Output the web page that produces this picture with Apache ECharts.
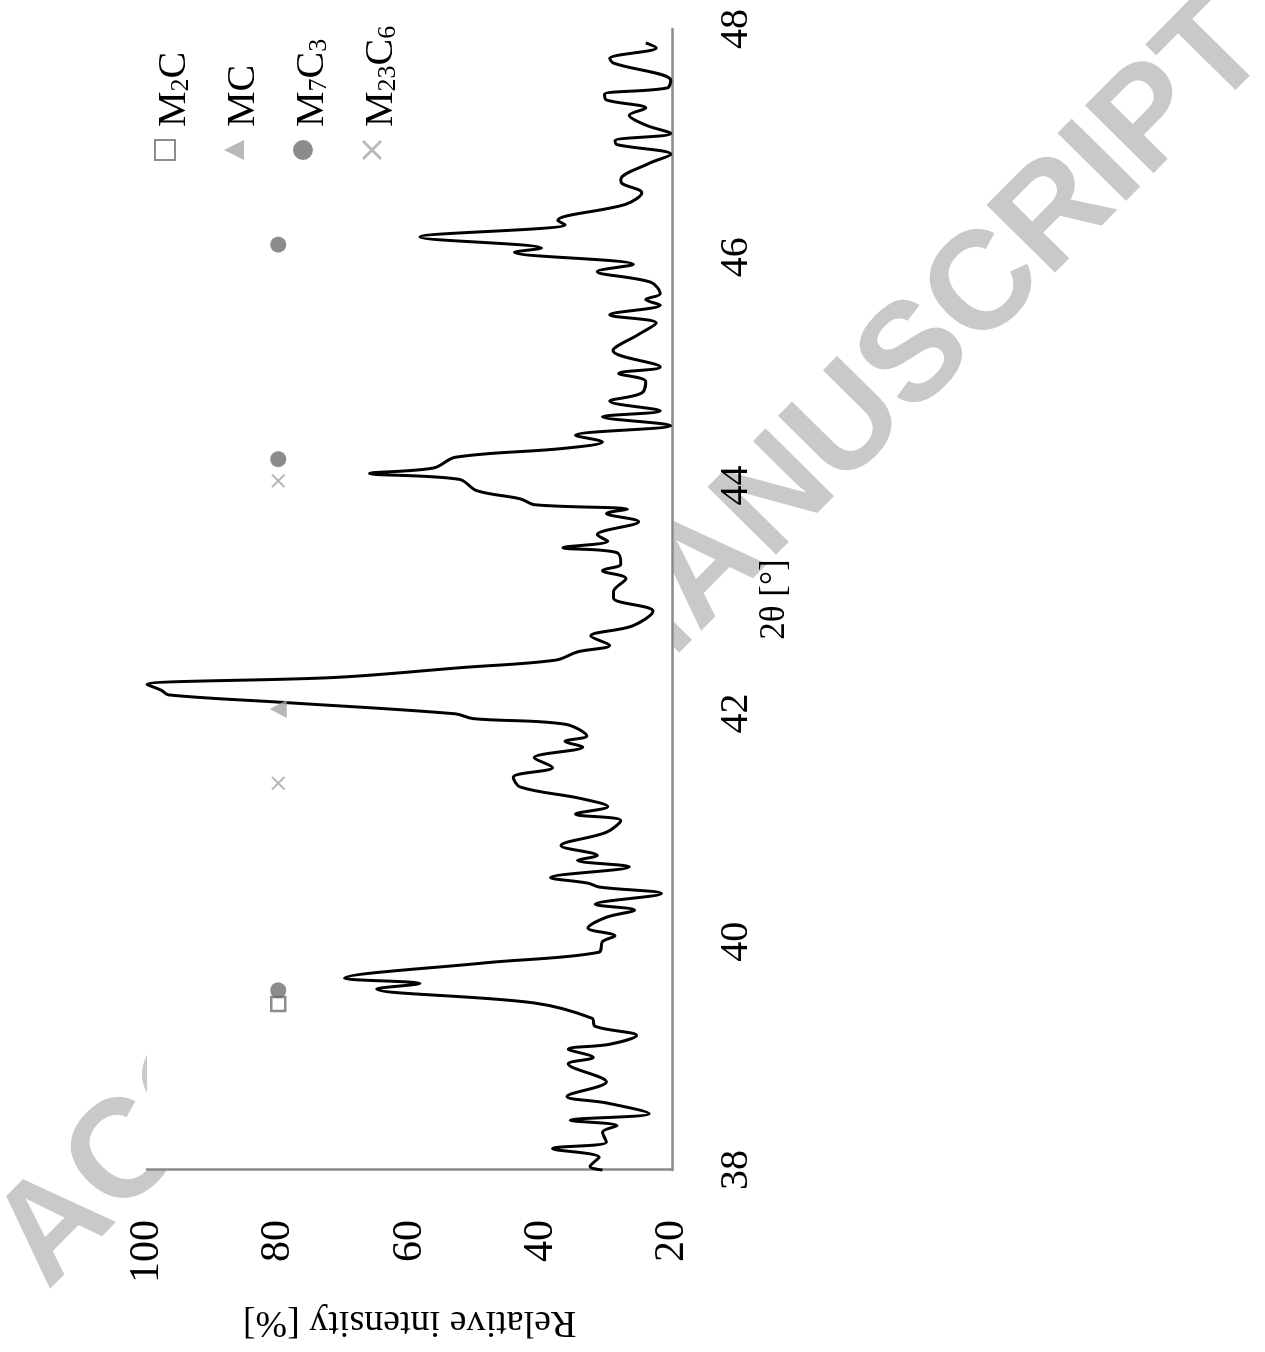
<!DOCTYPE html>
<html>
<head>
<meta charset="utf-8">
<script src="https://cdn.jsdelivr.net/npm/echarts@6/dist/echarts.min.js"></script>
<style>
  html, body { margin: 0; padding: 0; background: #fff; width: 1265px; height: 1352px; overflow: hidden; }
  /* The figure is laid out landscape and turned a quarter-turn counter-clockwise on the page. */
  #chart {
    position: absolute; left: 0; top: 0;
    width: 1352px; height: 1265px;
    transform-origin: 0 0;
    transform: translate(0, 1352px) rotate(-90deg);
  }
</style>
</head>
<body>
<div id="chart"></div>
<script>
// Diffraction scan: 2θ positions [°] and relative intensity [%]
const twoTheta = [
  38.00, 38.031, 38.111, 38.188, 38.245, 38.331, 38.388, 38.436, 38.494, 38.588,
  38.645, 38.773, 38.930, 38.987, 39.059, 39.102, 39.179, 39.259, 39.330, 39.464,
  39.587, 39.635, 39.681, 39.815, 39.909, 40.001, 40.052, 40.121, 40.215, 40.278,
  40.329, 40.423, 40.480, 40.514, 40.563, 40.657, 40.714, 40.757, 40.843, 40.960,
  41.062, 41.119, 41.185, 41.256, 41.356, 41.442, 41.528, 41.613, 41.707, 41.756,
  41.804, 41.907, 41.956, 41.998, 42.098, 42.164, 42.204, 42.255, 42.318, 42.404,
  42.469, 42.541, 42.598, 42.680, 42.769, 42.898, 43.012, 43.069, 43.183, 43.254,
  43.311, 43.411, 43.454, 43.511, 43.568, 43.682, 43.754, 43.791, 43.831, 43.882,
  43.953, 44.053, 44.105, 44.153, 44.247, 44.324, 44.381, 44.439, 44.524, 44.601,
  44.653, 44.738, 44.810, 44.910, 44.981, 45.038, 45.181, 45.323, 45.423, 45.495,
  45.580, 45.629, 45.680, 45.780, 45.874, 45.937, 46.043, 46.080, 46.177, 46.285,
  46.322, 46.465, 46.565, 46.645, 46.679, 46.822, 46.902, 46.987, 47.021, 47.084,
  47.158, 47.244, 47.307, 47.378, 47.427, 47.484, 47.549, 47.701, 47.741, 47.835,
  47.878
];
const intensity = [
  30.6, 32.5, 31.1, 38.2, 30.0, 30.6, 28.4, 35.5, 23.5, 30.0,
  36.0, 30.0, 35.8, 32.0, 35.8, 29.5, 25.4, 31.7, 32.2, 41.0,
  65.0, 58.4, 69.9, 48.6, 31.1, 30.6, 28.7, 32.8, 30.0, 25.7,
  31.7, 21.6, 31.1, 32.8, 38.5, 26.5, 34.4, 31.4, 36.9, 30.0,
  27.8, 34.7, 29.8, 33.9, 43.1, 44.2, 38.2, 41.0, 33.6, 36.3,
  33.0, 36.3, 50.3, 53.0, 79.2, 96.7, 97.8, 100.0, 71.0, 51.9,
  37.7, 34.4, 29.5, 32.4, 26.0, 22.9, 28.9, 28.9, 27.0, 30.6,
  27.8, 28.4, 36.6, 29.8, 31.4, 25.1, 30.0, 26.8, 41.0, 43.1,
  49.7, 52.4, 66.1, 56.3, 53.0, 36.6, 30.6, 34.7, 20.2, 30.6,
  21.8, 29.5, 24.6, 24.0, 28.1, 21.8, 29.0, 25.1, 22.4, 29.5,
  21.8, 24.0, 21.8, 23.2, 31.4, 25.9, 44.0, 39.9, 58.4, 36.3,
  37.4, 27.0, 24.6, 27.6, 27.8, 23.5, 20.2, 28.4, 28.7, 20.2,
  24.0, 26.5, 24.0, 30.0, 30.3, 20.7, 20.2, 28.9, 29.5, 22.4,
  24.0
];

// Phase reflections, all flagged at the same intensity level
const markerLevel = 80;
const m2cAngles = [39.455];
const mcAngles = [42.04];
const m7c3Angles = [39.575, 44.23, 46.11];
const m23c6Angles = [41.39, 44.04];

// Axis ticks
const angleTicks = [38, 40, 42, 44, 46, 48];
const intensityTicks = [20, 40, 60, 80, 100];

// Legend captions with subscripts
const phaseNames = ['M2C', 'MC', 'M7C3', 'M23C6'];
const phaseCaptions = {
  'M2C': '{n|M}{s|2}{n|C}',
  'MC': '{n|MC}',
  'M7C3': '{n|M}{s|7}{n|C}{s|3}',
  'M23C6': '{n|M}{s|23}{n|C}{s|6}'
};

const serif = '"Liberation Serif", "Times New Roman", serif';
const axisGray = '#8a8a8a';
const crossPath = 'path://M1,0L5,4L9,0L10,1L6,5L10,9L9,10L5,6L1,10L0,9L4,5L0,1Z';

const scan = twoTheta.map((t, i) => [t, intensity[i]]);
const atLevel = arr => arr.map(t => [t, markerLevel]);

const chart = echarts.init(document.getElementById('chart'), null, { renderer: 'canvas' });

chart.setOption({
  animation: false,
  grid: {
    left: 155, right: 29, top: 147, bottom: 593,
    show: true, backgroundColor: '#ffffff', borderWidth: 0
  },
  graphic: {
    elements: [{
      type: 'text',
      z: -5,
      silent: true,
      x: 88, y: 20,
      rotation: -0.780,
      style: {
        text: 'ACCEPTED MANUSCRIPT',
        font: 'bold 140px "Liberation Sans", Arial, sans-serif',
        fill: '#c8c9cb',
        align: 'left',
        verticalAlign: 'middle'
      }
    }]
  },
  legend: {
    data: phaseNames,
    orient: 'vertical',
    left: 1191, top: 154,
    padding: 0,
    itemWidth: 20, itemHeight: 20, itemGap: 29,
    formatter: name => phaseCaptions[name],
    textStyle: {
      padding: [18, 0, 0, 8],
      rich: {
        n: { fontFamily: serif, fontSize: 40, lineHeight: 40, color: '#000' },
        s: { fontFamily: serif, fontSize: 26, lineHeight: 20, color: '#000', verticalAlign: 'bottom' }
      }
    }
  },
  xAxis: {
    type: 'value',
    min: angleTicks[0], max: angleTicks[angleTicks.length - 1],
    interval: angleTicks[1] - angleTicks[0],
    name: '2θ [°]',
    nameLocation: 'middle',
    nameGap: 82,
    nameTextStyle: { fontFamily: serif, fontSize: 35, color: '#000' },
    axisLine: { show: true, onZero: false, lineStyle: { color: axisGray, width: 2.5 } },
    axisTick: { show: false },
    splitLine: { show: false },
    axisLabel: { fontFamily: serif, fontSize: 40, color: '#000', margin: 44 }
  },
  yAxis: {
    type: 'value',
    min: intensityTicks[0], max: intensityTicks[intensityTicks.length - 1],
    interval: intensityTicks[1] - intensityTicks[0],
    name: 'Relative intensity [%]',
    nameLocation: 'middle',
    nameRotate: 90,
    nameGap: 130,
    nameTextStyle: { fontFamily: serif, fontSize: 38, lineHeight: 44, color: '#000' },
    axisLine: { show: true, onZero: false, lineStyle: { color: axisGray, width: 2.5 } },
    axisTick: { show: false },
    splitLine: { show: false },
    axisLabel: { fontFamily: serif, fontSize: 42, color: '#000', margin: 50 }
  },
  series: [
    {
      name: 'scan',
      type: 'line',
      data: scan,
      showSymbol: false,
      smooth: 0.35,
      lineStyle: { color: '#000', width: 3 },
      z: 2
    },
    {
      name: 'M2C', type: 'scatter', data: atLevel(m2cAngles),
      symbol: 'rect', symbolSize: 14,
      itemStyle: { color: '#ffffff', borderColor: '#6f6f6f', borderWidth: 2.5 }, z: 3
    },
    {
      name: 'MC', type: 'scatter', data: atLevel(mcAngles),
      symbol: 'triangle', symbolSize: [18, 17],
      itemStyle: { color: '#a6a6a6' }, z: 3
    },
    {
      name: 'M7C3', type: 'scatter', data: atLevel(m7c3Angles),
      symbol: 'circle', symbolSize: 16,
      itemStyle: { color: '#6f6f6f' }, z: 4
    },
    {
      name: 'M23C6', type: 'scatter', data: atLevel(m23c6Angles),
      symbol: crossPath, symbolSize: 14,
      itemStyle: { color: '#a6a6a6' }, z: 4
    }
  ]
});
</script>
</body>
</html>
